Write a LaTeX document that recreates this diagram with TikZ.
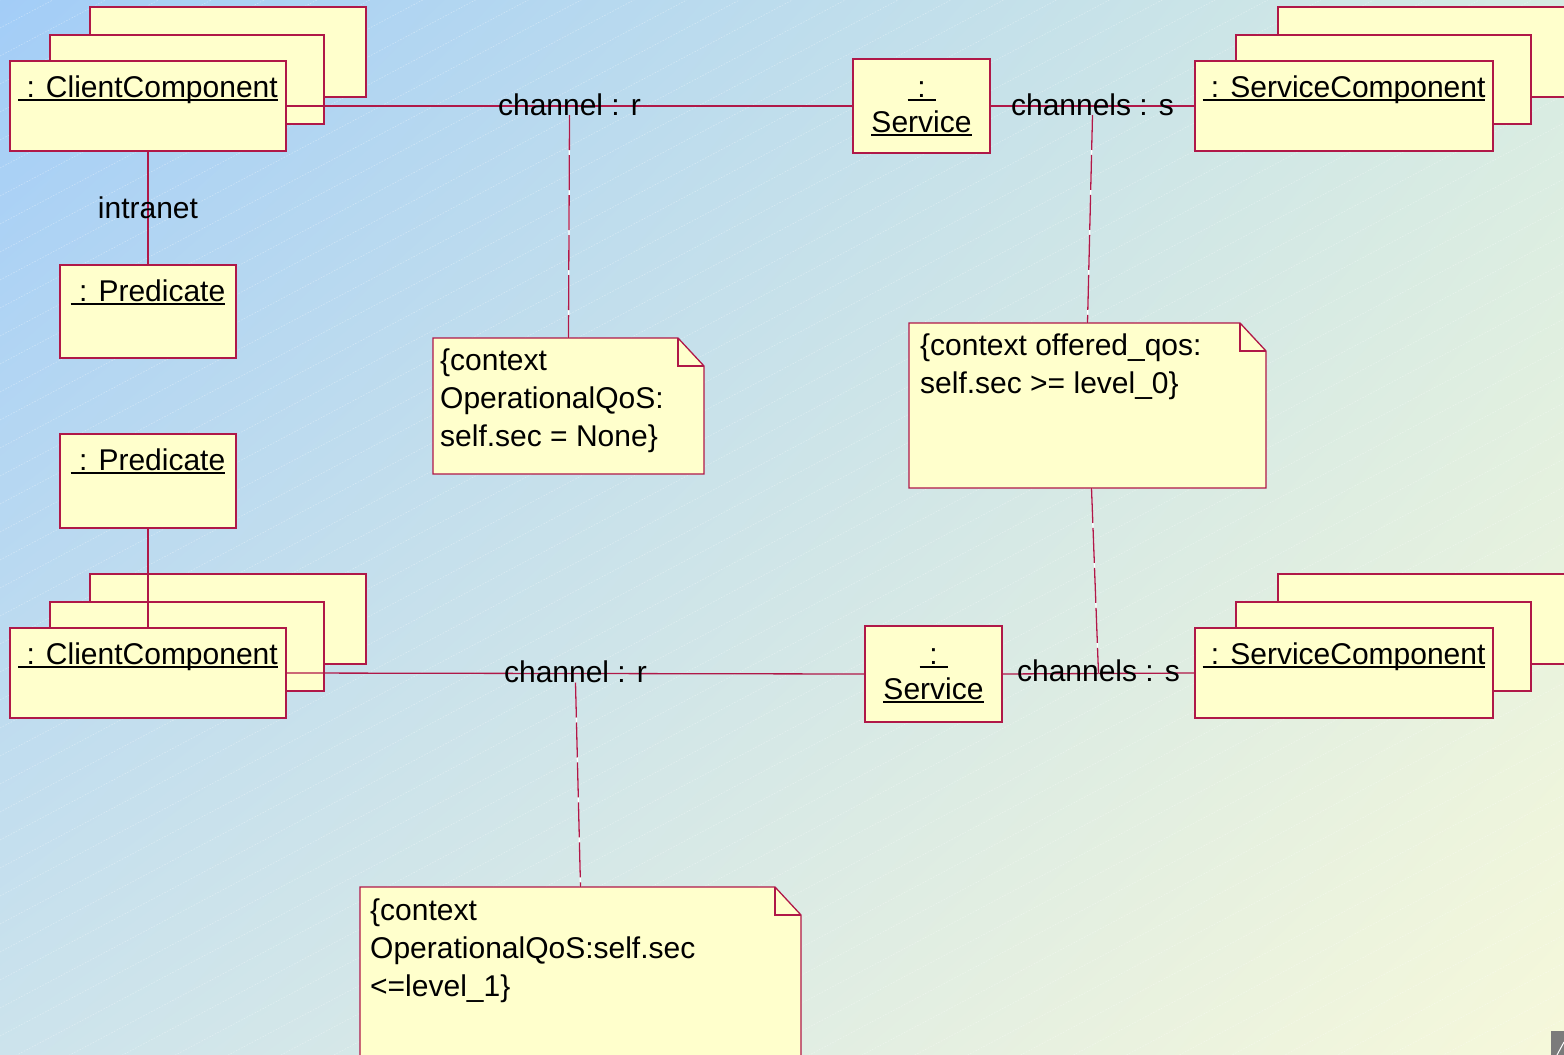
\documentclass[tikz,border=0pt]{standalone}
\usepackage{fontspec}
\setmainfont{Liberation Sans}
\usetikzlibrary{calc,shadings}

\definecolor{bgTL}{RGB}{163,205,247}
\definecolor{bgTR}{RGB}{214,235,227}
\definecolor{bgBL}{RGB}{204,227,236}
\definecolor{bgBR}{RGB}{246,248,218}
\definecolor{umlfill}{RGB}{255,255,204}
\definecolor{umlline}{RGB}{176,24,72}
\definecolor{gripgray}{RGB}{123,123,123}

% underlined label, rule set just below the baseline
\newcommand\ulbox[1]{\setbox0\hbox{#1}\rlap{\vrule height -2.4pt depth 4.2pt width \wd0}\box0}

% outline of a UML note with a folded corner
\newcommand\foldnote[1]{%
  \draw[noteedge] (#1.north west) -- ([xshift=-26pt]#1.north east)
    -- ([yshift=-28pt]#1.north east) -- (#1.south east) -- (#1.south west) -- cycle;
  \draw[noteedge, fill=none] ([xshift=-26pt]#1.north east) |- ([yshift=-28pt]#1.north east);}

\begin{document}
\begin{tikzpicture}[x=1pt, y=-1pt,
  umlbox/.style={draw=umlline, fill=umlfill, line width=1.3pt, inner sep=0pt,
    outer sep=0pt, anchor=north west},
  noteframe/.style={inner sep=0pt, outer sep=0pt, anchor=north west},
  noteedge/.style={draw=umlline, fill=umlfill, line width=1.3pt, line join=miter},
  lbl/.style={font=\fontsize{30}{38}\selectfont, inner sep=0pt, text=black},
  notetext/.style={lbl, align=left, anchor=north west},
  assoc/.style={draw=umlline, line width=1.3pt},
  notelink/.style={draw=umlline, line width=1.3pt, dash pattern=on 35pt off 5pt,
    preaction={draw=white, solid, line width=1.3pt}},
  hatch/.style={white, opacity=0.35, line width=0.6pt, dash pattern=on 1.5pt off 1.5pt},
]
\useasboundingbox (0,0) rectangle (1564,1055);
\clip (0,0) rectangle (1564,1055);

% background: diagonal blue-to-cream gradient with a faint hatch
\shade[upper left=bgTL, upper right=bgTR, lower left=bgBL, lower right=bgBR]
  (0,0) rectangle (1564,1055);
\foreach \k in {0,28,...,1904}
  \draw[hatch] (0,\k) -- (1564,\k-829);

% ---- upper row -------------------------------------------------------
% client component stack
\node[umlbox, minimum width=276pt, minimum height=90pt] (cc1b) at (90,7) {};
\node[umlbox, minimum width=274pt, minimum height=89pt] (cc1m) at (50,35) {};
\node[umlbox, minimum width=276pt, minimum height=90pt] (cc1f) at (10,61) {};
\node[lbl, anchor=base] (cc1t) at (148,97) {\ulbox{\ : ClientComponent}};

% service component stack
\node[umlbox, minimum width=300pt, minimum height=90pt] (sc1b) at (1278,7) {};
\node[umlbox, minimum width=295pt, minimum height=89pt] (sc1m) at (1236,35) {};
\node[umlbox, minimum width=298pt, minimum height=90pt] (sc1f) at (1195,61) {};
\node[lbl, anchor=base] (sc1t) at (1344,97) {\ulbox{\ : ServiceComponent}};

% service
\node[umlbox, minimum width=137pt, minimum height=94pt] (sv1) at (853,59) {};
\node[lbl, anchor=base] (sv1a) at (921.5,97) {\ulbox{\hbox to 28pt{\hfil:\hfil}}};
\node[lbl, anchor=base] (sv1b) at (921.5,132) {\ulbox{Service}};

% predicate
\node[umlbox, minimum width=176pt, minimum height=93pt] (pr1) at (60,265) {};
\node[lbl, anchor=base] (pr1t) at (148,301) {\ulbox{\ : Predicate}};

% ---- lower row -------------------------------------------------------
\node[umlbox, minimum width=176pt, minimum height=94pt] (pr2) at (60,434) {};
\node[lbl, anchor=base] (pr2t) at (148,470) {\ulbox{\ : Predicate}};

\node[umlbox, minimum width=276pt, minimum height=90pt] (cc2b) at (90,574) {};
\node[umlbox, minimum width=274pt, minimum height=89pt] (cc2m) at (50,602) {};
\node[umlbox, minimum width=276pt, minimum height=90pt] (cc2f) at (10,628) {};
\node[lbl, anchor=base] (cc2t) at (148,664) {\ulbox{\ : ClientComponent}};

\node[umlbox, minimum width=300pt, minimum height=90pt] (sc2b) at (1278,574) {};
\node[umlbox, minimum width=295pt, minimum height=89pt] (sc2m) at (1236,602) {};
\node[umlbox, minimum width=298pt, minimum height=90pt] (sc2f) at (1195,628) {};
\node[lbl, anchor=base] (sc2t) at (1344,664) {\ulbox{\ : ServiceComponent}};

\node[umlbox, minimum width=137pt, minimum height=96pt] (sv2) at (865,626) {};
\node[lbl, anchor=base] (sv2a) at (933.5,664) {\ulbox{\hbox to 28pt{\hfil:\hfil}}};
\node[lbl, anchor=base] (sv2b) at (933.5,699) {\ulbox{Service}};

% ---- links -------------------------------------------------------------
\draw[assoc] (cc1f.east) -- node[lbl, anchor=base, yshift=-9pt] (l1) {channel : r} (sv1.west);
\draw[assoc] (sv1.east) -- node[lbl, anchor=base, yshift=-9pt] (l2) {channels : s} (sc1f.west);
\draw[assoc] (cc1f.south) -- node[lbl, anchor=base, yshift=-10pt] (l0) {intranet} (pr1.north);
\draw[assoc] (pr2.south) -- (cc2f.north);
\draw[assoc] (cc2f.east) -- node[lbl, anchor=base, yshift=-9pt] (l3) {channel : r} (sv2.west);
\draw[assoc] (sv2.east) -- node[lbl, anchor=base, yshift=-8pt] (l4) {channels : s}
  node[coordinate, pos=0.5] (m4) {} (sc2f.west);

% ---- notes -------------------------------------------------------------
\node[noteframe, minimum width=271pt, minimum height=136pt] (n1) at (433,338) {};
\foldnote{n1}
\node[notetext] (n1t) at (440,343.4)
  {\strut\{context\\\strut OperationalQoS:\\\strut self.sec = None\}};

\node[noteframe, minimum width=357pt, minimum height=165pt] (n2) at (909,323) {};
\foldnote{n2}
\node[notetext] (n2t) at (920,328.4)
  {\strut\{context offered\_qos:\\\strut self.sec >= level\_0\}};

\node[noteframe, minimum width=441pt, minimum height=200pt] (n3) at (360,887) {};
\foldnote{n3}
\node[notetext] (n3t) at (370,893.4)
  {\strut\{context\\\strut OperationalQoS:self.sec\\\strut <=level\_1\}};

% note anchors
\draw[notelink] (l1.base) -- (n1.north);
\draw[notelink] (l2.base) -- (n2.north);
\draw[notelink] ([xshift=4pt]n2.south) -- (m4);
\draw[notelink] (l3.base) -- (n3.north);

% window resize grip
\fill[gripgray] (1551,1031) rectangle (1564,1055);
\draw[white, line width=1pt] (1557,1055) -- (1564,1042);
\end{tikzpicture}
\end{document}
